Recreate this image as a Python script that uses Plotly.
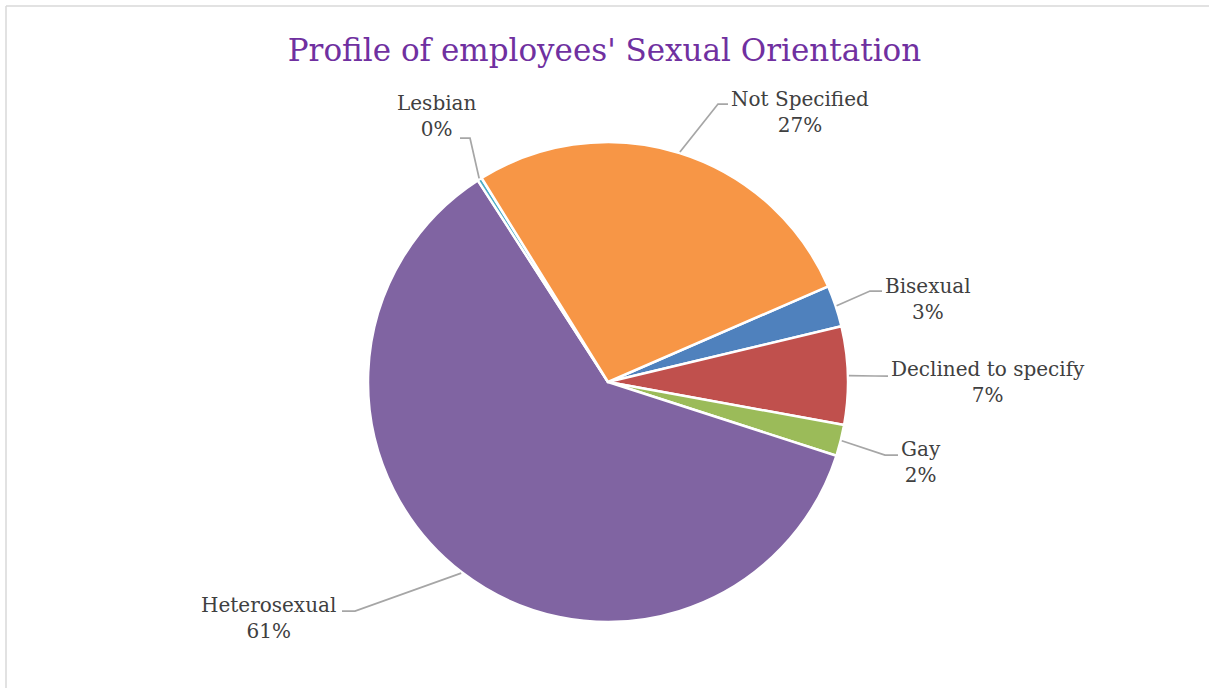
import math
import plotly.graph_objects as go

# ---- data ----
labels = ["Bisexual", "Declined to specify", "Gay", "Heterosexual", "Lesbian", "Not Specified"]
values = [2.8, 6.6, 2.1, 60.9, 0.3, 27.3]
colors = ["#4F81BD", "#C0504D", "#9BBB59", "#8064A2", "#4BACC6", "#F79646"]
title_text = "Profile of employees' Sexual Orientation"

# ---- layout constants (pixels) ----
W, H = 1209, 688
CX, CY, R = 608, 382, 240
ROTATION = 66.5
FONT = "DejaVu Serif"
TEXT_COLOR = "#404040"
LINE_COLOR = "#A6A6A6"

# label text centres and leader-line elbows/ends (layout, in pixels)
label_pos = [(928, 299), (988, 382), (921, 462), (268, 618), (437, 116), (800, 112)]
elbow_pos = [(870, 291), (875, 376), (885, 455), (355, 611), (470, 138), (718, 104)]
end_pos = [(882, 291), (888, 376), (898, 455), (342, 611), (460, 138), (728, 104)]


def px(x):
    return x / W


def py(y):
    return 1 - y / H


fig = go.Figure()
fig.add_trace(go.Pie(
    labels=labels,
    values=values,
    sort=False,
    direction="clockwise",
    rotation=ROTATION,
    marker=dict(colors=colors, line=dict(color="white", width=2.5)),
    textinfo="none",
    hoverinfo="label+percent",
    showlegend=False,
    domain=dict(x=[px(CX - R), px(CX + R)], y=[py(CY + R), py(CY - R)]),
))

total = sum(values)
shapes = []
annotations = []
cum = 0.0
for i, (lab, v) in enumerate(zip(labels, values)):
    mid = ROTATION + (cum + v / 2) / total * 360
    cum += v
    a = math.radians(mid)
    sx = CX + (R + 1) * math.sin(a)
    sy = CY - (R + 1) * math.cos(a)
    ex, ey = elbow_pos[i]
    fx, fy = end_pos[i]
    path = f"M {px(sx)},{py(sy)} L {px(ex)},{py(ey)} L {px(fx)},{py(fy)}"
    shapes.append(dict(type="path", xref="paper", yref="paper", path=path,
                       line=dict(color=LINE_COLOR, width=1.75)))
    pct = round(v / total * 100)
    lx, ly = label_pos[i]
    annotations.append(dict(
        x=px(lx), y=py(ly), xref="paper", yref="paper",
        text=f"{lab}<br>{pct}%", showarrow=False, align="center",
        xanchor="center", yanchor="middle",
        font=dict(family=FONT, size=20, color=TEXT_COLOR),
    ))

# chart area border (left & top visible)
shapes.append(dict(type="line", xref="paper", yref="paper", x0=px(6), x1=px(6), y0=py(6), y1=-0.01,
                   line=dict(color="#D9D9D9", width=1.5)))
shapes.append(dict(type="line", xref="paper", yref="paper", x0=px(6), x1=1.01, y0=py(6), y1=py(6),
                   line=dict(color="#D9D9D9", width=1.5)))

fig.update_layout(
    width=W, height=H,
    margin=dict(l=0, r=0, t=0, b=0),
    paper_bgcolor="white",
    plot_bgcolor="white",
    title=dict(text=title_text, x=0.5, xanchor="center", y=py(50), yanchor="middle",
               font=dict(family=FONT, size=31, color="#7030A0")),
    shapes=shapes,
    annotations=annotations,
)

fig.write_html("out.html",
               config={"displayModeBar": False},
               post_script="document.body.style.margin='0';document.body.style.overflow='hidden';")
